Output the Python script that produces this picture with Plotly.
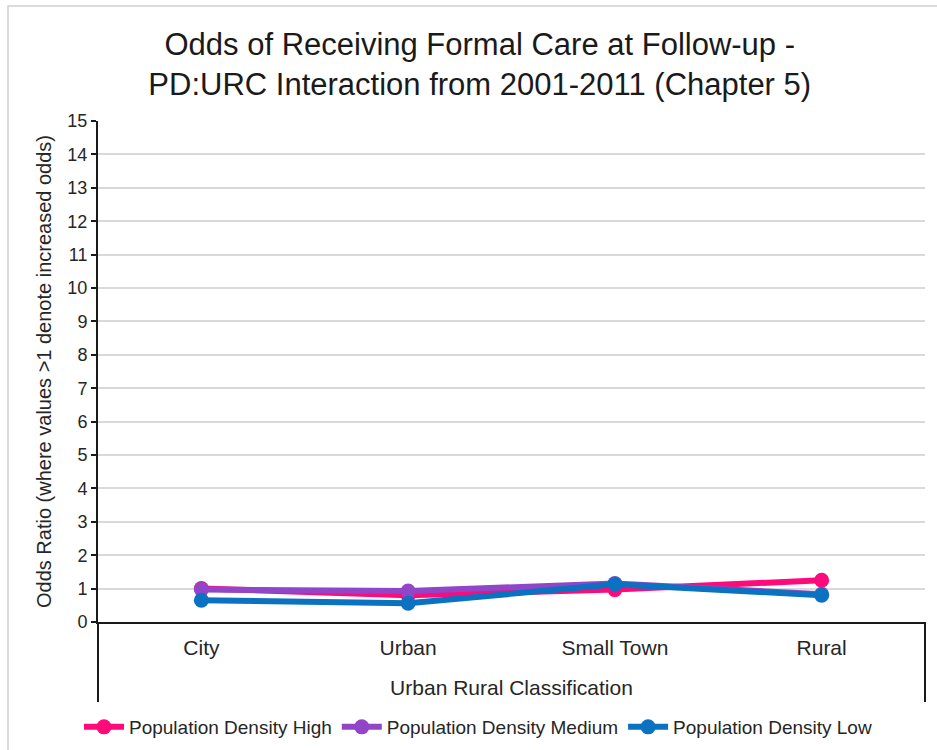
import plotly.graph_objects as go

categories = ["City", "Urban", "Small Town", "Rural"]
density_high = [1.0, 0.8, 0.97, 1.25]
density_medium = [0.97, 0.93, 1.15, 0.83]
density_low = [0.65, 0.56, 1.13, 0.8]

series_names = ["Population Density High", "Population Density Medium", "Population Density Low"]
series_colors = ["#FF0A7A", "#9146C8", "#0A72C0"]

W, H = 937, 750
L, R, T, B = 98, 925, 121, 622  # plot area in pixels


def px_x(px):
    return (px - L) / (R - L)


def px_y(py):
    return (B - py) / (B - T)


fig = go.Figure()
for name, vals, col in zip(series_names, [density_high, density_medium, density_low], series_colors):
    fig.add_trace(go.Scatter(
        x=categories, y=vals, name=name, mode="lines+markers",
        line=dict(color=col, width=6),
        marker=dict(color=col, size=15),
    ))

font_family = "Liberation Sans, Arial, sans-serif"

fig.update_layout(
    width=W, height=H,
    margin=dict(l=L, r=W - R, t=T, b=H - B, autoexpand=False),
    paper_bgcolor="white", plot_bgcolor="white",
    font=dict(family=font_family, color="#262626"),
    title=dict(
        text="Odds of Receiving Formal Care at Follow-up -<br>PD:URC Interaction from 2001-2011 (Chapter 5)",
        x=0.512, xanchor="center", y=(H - 55) / H, yanchor="middle",
        font=dict(size=31, color="#1a1a1a"),
    ),
    xaxis=dict(
        type="category", range=[-0.5, 3.5], automargin=False,
        showline=True, linecolor="#1a1a1a", linewidth=2,
        showgrid=False, ticks="", zeroline=False,
        tickfont=dict(size=21, color="#262626"),
        ticklabelstandoff=6,
        title=dict(text="Urban Rural Classification", font=dict(size=21, color="#262626"), standoff=22),
    ),
    yaxis=dict(
        range=[0, 15], dtick=1, tick0=0, automargin=False,
        showline=True, linecolor="#1a1a1a", linewidth=2,
        ticks="outside", ticklen=5, tickcolor="#1a1a1a", tickwidth=2,
        showgrid=True, gridcolor="#d9d9d9", gridwidth=1.5,
        zeroline=False,
        tickfont=dict(size=18, color="#262626"),
        title=dict(text="Odds Ratio (where values >1 denote increased odds)",
                   font=dict(size=20, color="#262626"), standoff=10),
    ),
    legend=dict(
        orientation="h", x=px_x(478), xanchor="center", y=px_y(727), yanchor="middle",
        font=dict(size=19, color="#262626"),
        itemwidth=40, tracegroupgap=0,
    ),
    showlegend=True,
)

# Outer chart border
fig.add_shape(type="rect", xref="paper", yref="paper",
              x0=px_x(8), x1=px_x(W + 5), y0=px_y(H + 5), y1=px_y(6),
              line=dict(color="#d0d0d0", width=1.5), fillcolor="rgba(0,0,0,0)", layer="below")

# Box around the two-level category axis
for xp in (0, 1):
    fig.add_shape(type="line", xref="paper", yref="paper",
                  x0=xp, x1=xp, y0=0, y1=px_y(702),
                  line=dict(color="#1a1a1a", width=2))

fig.write_html("out.html")
